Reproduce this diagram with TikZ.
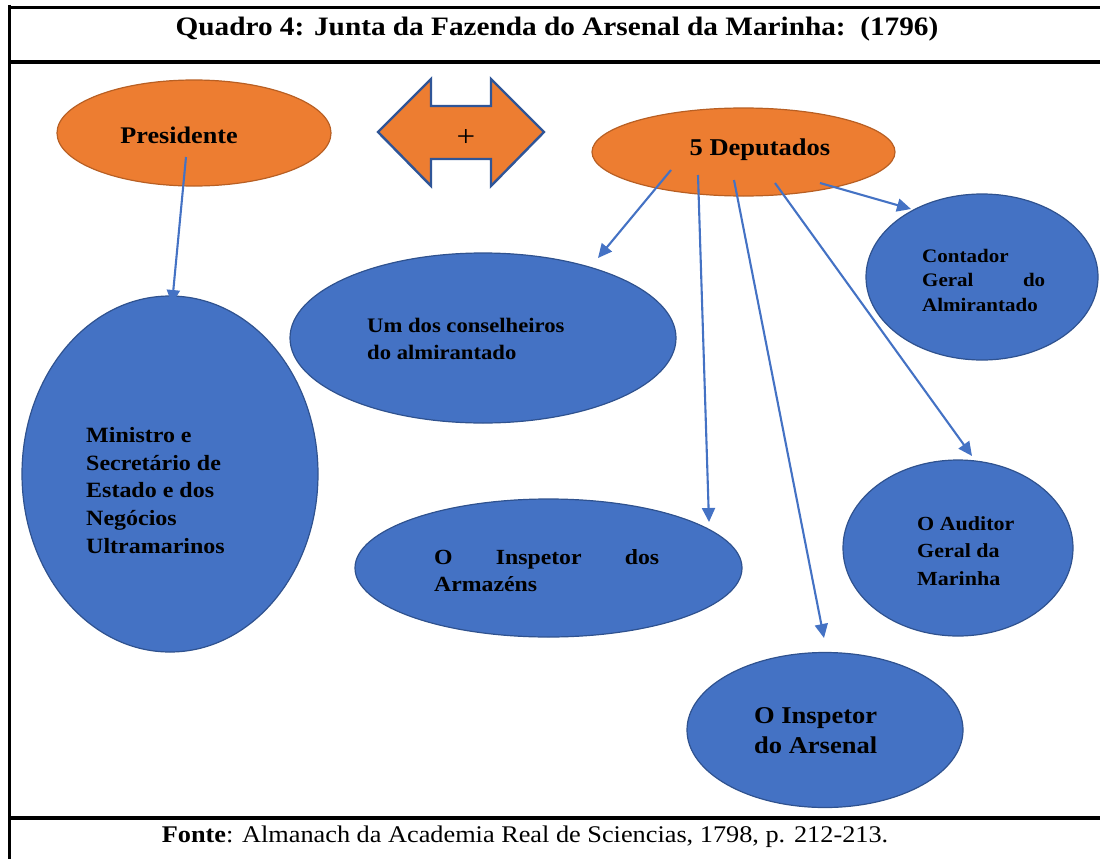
\documentclass[tikz,border=0pt]{standalone}
\usepackage{fontspec}
\setmainfont{Liberation Serif}[FakeStretch=1.1]
\usetikzlibrary{shapes.geometric,arrows.meta,calc}
\definecolor{orfill}{HTML}{ED7D31}
\definecolor{ordraw}{HTML}{B85F23}
\definecolor{blfill}{HTML}{4472C4}
\definecolor{bldraw}{HTML}{2F528F}
\definecolor{dblue}{HTML}{2F5597}
\definecolor{connblue}{HTML}{4472C4}
\newcommand{\fsz}[2]{\fontsize{#1}{#2}\selectfont}
\begin{document}
\begin{tikzpicture}[x=1pt,y=-1pt,
  orell/.style={ellipse, draw=ordraw, line width=1.2pt, fill=orfill, inner sep=0},
  blell/.style={ellipse, draw=bldraw, line width=1.2pt, fill=blfill, inner sep=0},
  lbl/.style={align=left, inner sep=0, anchor=north west},
  conn/.style={draw=connblue, line width=2.1pt, -{Triangle[length=14pt,width=13pt]}},
  framel/.style={line width=3.8pt, black}]
\useasboundingbox (0,0) rectangle (1100,859);
% frame
\draw[framel] (9.5,5) -- (9.5,859);
\draw[framel] (8,7.5) -- (1100,7.5);
\draw[framel] (8,62) -- (1100,62);
\draw[framel] (8,818) -- (1100,818);
\node[inner sep=0, font=\bfseries\fsz{26.6}{30}] (title) at (557,29) {Quadro 4: Junta da Fazenda do Arsenal da Marinha:\ \ (1796)};
\node[inner sep=0, font=\fsz{23.9}{28}] (fonte) at (525,837) {\textbf{Fonte}: Almanach da Academia Real de Sciencias, 1798, p. 212-213.};
% orange shapes
\node[orell, minimum width=274pt, minimum height=106pt] (pres) at (194,133) {};
\node[orell, minimum width=303pt, minimum height=88pt] (dep) at (743.5,152) {};
\draw[fill=orfill, draw=dblue, line width=2.4pt, line join=miter]
  (378,132) -- (431,79) -- (431,106) -- (491,106) -- (491,79) -- (544,132)
  -- (491,186) -- (491,159) -- (431,159) -- (431,186) -- cycle;
\node[inner sep=0, font=\fsz{30}{32}] (plus) at (466,138) {+};
% blue ellipses
\node[blell, minimum width=386pt, minimum height=170pt] (um) at (483,338) {};
\node[blell, minimum width=296pt, minimum height=356pt] (min) at (170,474) {};
\node[blell, minimum width=387pt, minimum height=138pt] (arm) at (548.5,568) {};
\node[blell, minimum width=276pt, minimum height=155pt] (ars) at (825,730) {};
\node[blell, minimum width=230pt, minimum height=176pt] (aud) at (958,548) {};
\node[blell, minimum width=232pt, minimum height=166pt] (con) at (982,277) {};
% labels
\node[inner sep=0, font=\bfseries\fsz{23.8}{28}] (tpres) at (179,135) {Presidente};
\node[inner sep=0, font=\bfseries\fsz{24.1}{28}] (tdep) at (760,150) {5 Deputados};
\node[lbl, font=\bfseries\fsz{19.1}{24.5}] (tcon) at (922,249)
  {Contador\\ \makebox[123pt][l]{Geral\hfill do}\\ Almirantado};
\node[lbl, font=\bfseries\fsz{20.6}{27}] (tum) at (367,318)
  {Um dos conselheiros\\ do almirantado};
\node[lbl, font=\bfseries\fsz{21.8}{27.7}] (tmin) at (86,427)
  {Ministro e\\ Secretário de\\ Estado e dos\\ Negócios\\ Ultramarinos};
\node[lbl, font=\bfseries\fsz{21.6}{27}] (tarm) at (434,549)
  {\makebox[225pt][l]{O\hfill Inspetor\hfill dos}\\ Armazéns};
\node[lbl, font=\bfseries\fsz{24.1}{30}] (tars) at (754,707)
  {O Inspetor\\ do Arsenal};
\node[lbl, font=\bfseries\fsz{20}{27.5}] (taud) at (917,516)
  {O Auditor\\ Geral da\\ Marinha};
% connector start points
\coordinate (p1) at ($(pres.center)+(-8,24)$);
\coordinate (s1) at ($(dep.center)+(-72.5,18)$);
\coordinate (s2) at ($(dep.center)+(-45.5,23)$);
\coordinate (s3) at ($(dep.center)+(-9.5,28)$);
\coordinate (s4) at ($(dep.center)+(31.5,31)$);
\coordinate (s5) at ($(dep.center)+(76.5,31)$);
% connector end points, next to their targets
\coordinate (emin) at ($(min.center)+(2,-170)$);
\coordinate (eum) at ($(um.center)+(115,-80)$);
\coordinate (earm) at ($(arm.center)+(160.5,-46)$);
\coordinate (ears) at ($(ars.center)+(-1,-92)$);
\coordinate (eaud) at ($(aud.center)+(14,-92)$);
\coordinate (econ) at ($(con.center)+(-71,-68)$);
% connectors
\draw[conn] (p1) -- (emin);
\draw[conn] (s1) -- (eum);
\draw[conn] (s2) -- (earm);
\draw[conn] (s3) -- (ears);
\draw[conn] (s4) -- (eaud);
\draw[conn] (s5) -- (econ);
\end{tikzpicture}
\end{document}
